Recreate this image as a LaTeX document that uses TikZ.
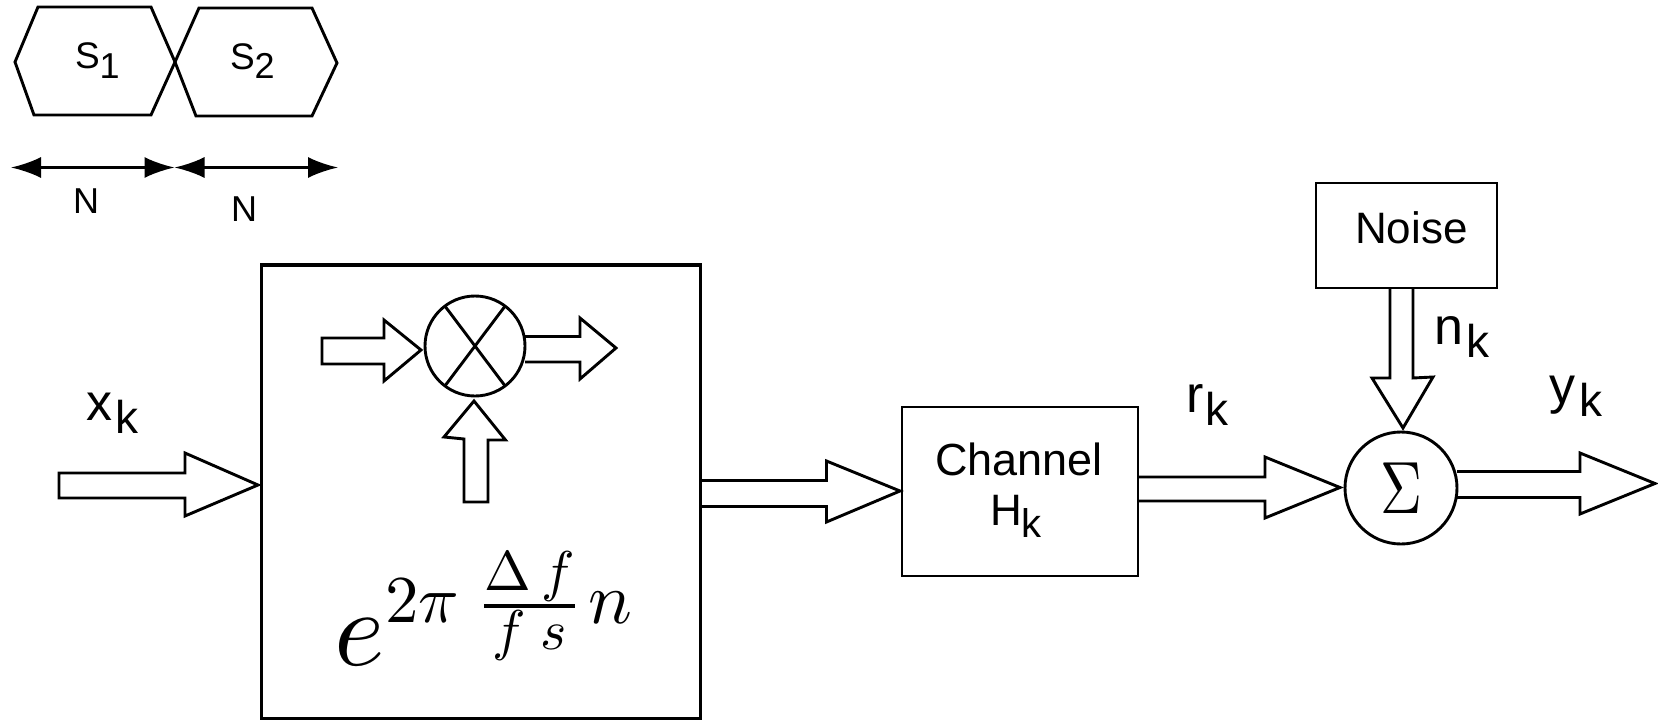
\documentclass[tikz,border=0pt]{standalone}
\usepackage{fontspec}
\usepackage{graphicx}
\setmainfont{Liberation Sans}
\usetikzlibrary{arrows.meta}
\tikzset{
  x=1pt,y=-1pt,
  thin line/.style={draw=black,line width=2.9pt,line join=miter,outer sep=0pt},
  fat line/.style={draw=black,line width=3.4pt,line join=miter,outer sep=0pt},
  lbl/.style={inner sep=0pt,outer sep=0pt,anchor=base west,text=black},
  dim/.style={draw=black,line width=2.6pt,{Latex[length=30pt,width=21pt]}-{Latex[length=30pt,width=21pt]}},
  hollow/.style={draw=black,line width=2.9pt,line join=miter},
}
\newcommand{\sublabel}[3]{\fontsize{52}{52}\selectfont #1\kern#3\raisebox{-13pt}{\fontsize{46}{46}\selectfont #2}}
\begin{document}
\begin{tikzpicture}
\useasboundingbox (0,0) rectangle (1658,720);
% hexagons
\draw[thin line] (15,62) -- (38,7) -- (151,7) -- (175,62) -- (151,115) -- (34,115) -- cycle;
\draw[thin line] (175,62) -- (199,8) -- (312,8) -- (337,63) -- (312,116) -- (196,116) -- cycle;
\node[lbl] (s1) at (75,68) {\fontsize{37}{37}\selectfont S\raisebox{-10pt}{\fontsize{36}{36}\selectfont 1}};
\node[lbl] (s2) at (230,69) {\fontsize{37}{37}\selectfont S\raisebox{-9pt}{\fontsize{36}{36}\selectfont 2}};
% dimension arrows
\coordinate (d1) at (11,167.5); \coordinate (d2) at (174.5,167.5); \coordinate (d3) at (338,167.5);
\draw[dim] (d1) -- (d2);
\draw[dim] (d2) -- (d3);
\node[lbl] (n1) at (73,213) {\fontsize{36}{36}\selectfont N};
\node[lbl] (n2) at (231,221) {\fontsize{36}{36}\selectfont N};
% big box
\node[fat line,minimum width=439pt,minimum height=454pt,inner sep=0pt,anchor=north west] (mixer) at (261.5,265) {};
% multiplier
\node[circle,thin line,minimum size=100pt,inner sep=0pt] (mult) at (475,346) {};
\draw[thin line] (mult.127) -- (mult.-53);
\draw[thin line] (mult.53) -- (mult.-127);
% arrows
\draw[hollow] (322,338) -- (384,338) -- (384,320) -- (421,350) -- (384,381) -- (384,364) -- (322,364) -- cycle;
\draw[hollow] (mult.east |- 0,336.5) -- (580,336.5) -- (580,318) -- (616,348) -- (580,379) -- (580,362) -- (mult.east |- 0,362);
\draw[hollow] (464,502) -- (464,439) -- (444,437) -- (474,401) -- (505.5,440) -- (488,440) -- (488,502) -- cycle;
\draw[hollow] (59,473) -- (185,473) -- (185,453) -- (258,485) -- (185,516) -- (185,498) -- (59,498) -- cycle;
\draw[hollow] (mixer.east |- 0,480.5) -- (826.5,480.5) -- (826.5,461) -- (900,491) -- (826.5,522) -- (826.5,506.5) -- (mixer.east |- 0,506.5);
% formula
\node[lbl] (formula) at (334,665) {\scalebox{10.8}{$e$}\kern1pt\raisebox{43pt}{\scalebox{6.7}{$2\pi$}}\kern18pt\raisebox{45pt}{\scalebox{5.6}{${\displaystyle\Delta\kern.2em f}\above0.6pt{\displaystyle f\kern.25em s}$}}};
\node[lbl] (formulan) at (588,623) {\scalebox{7.3}{$n$}};
% channel
\node[thin line,minimum width=236pt,minimum height=169pt,inner sep=0pt,anchor=north west] (chan) at (902,407) {};
\node[lbl] (chan1) at (935,475) {\fontsize{45}{45}\selectfont Channel};
\node[lbl] (chan2) at (990,525) {\fontsize{44}{44}\selectfont H\raisebox{-12pt}{\fontsize{40}{40}\selectfont k}};
\node[circle,thin line,minimum size=112pt,inner sep=0pt] (sum) at (1401,488) {};
\node[xscale=5.8,yscale=7.4,inner sep=0pt] (sigma) at (sum.center) {$\Sigma$};
\draw[hollow] (chan.east |- 0,477) -- (1265,477) -- (1265,457) -- (1340,487.5) -- (1265,518) -- (1265,501) -- (chan.east |- 0,501);
\draw[hollow] (sum.east |- 0,471.5) -- (1580,471.5) -- (1580,453) -- (1655,483.5) -- (1580,514) -- (1580,497.5) -- (sum.east |- 0,497.5);
\node[thin line,minimum width=181pt,minimum height=105pt,inner sep=0pt,anchor=north west] (noise) at (1316,183) {};
\node[lbl] (noiset) at (1355,243) {\fontsize{44}{44}\selectfont Noise};
\draw[hollow] (noise.south -| 1390,0) -- (1390,378) -- (1372,378) -- (1403,428) -- (1433,377) -- (1413,378) -- (noise.south -| 1413,0);
% labels
\node[lbl] (nk) at (1434,344) {\sublabel{n}{k}{4pt}};
\node[lbl] (rk) at (1186,412) {\sublabel{r}{k}{2pt}};
\node[lbl] (yk) at (1549,403) {\sublabel{y}{k}{4pt}};
\node[lbl] (xk) at (86,420) {\sublabel{x}{k}{3pt}};
\end{tikzpicture}
\end{document}
